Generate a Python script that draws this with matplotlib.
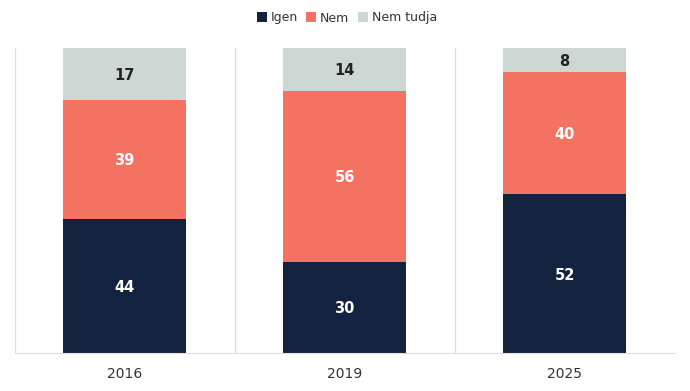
import matplotlib
matplotlib.use("Agg")
import matplotlib.pyplot as plt
from matplotlib.patches import Patch
import numpy as np

# data
years = ["2016", "2019", "2025"]
igen = [44, 30, 52]
nem = [39, 56, 40]
nem_tudja = [17, 14, 8]
series_names = ["Igen", "Nem", "Nem tudja"]
colors = ["#13233f", "#f47262", "#cdd7d4"]
text_colors = ["white", "white", "#222222"]

W, H = 690, 391
fig = plt.figure(figsize=(W / 100, H / 100), dpi=100)
ax = fig.add_axes([14.5 / W, (H - 353) / H, 660 / W, 305 / H])

x = np.arange(len(years))
bottom = np.zeros(len(years))
for vals, col, tcol in zip([igen, nem, nem_tudja], colors, text_colors):
    vals = np.array(vals, dtype=float)
    ax.bar(x, vals, bottom=bottom, width=0.56, color=col, zorder=2)
    for xi, v, b in zip(x, vals, bottom):
        ax.text(xi, b + v / 2 - 0.5, str(int(v)), ha="center", va="center",
                color=tcol, fontsize=10.5, fontweight="semibold", zorder=3)
    bottom += vals

ax.set_xlim(-0.5, len(years) - 0.5)
ax.set_ylim(0, 100)
ax.set_yticks([])
ax.set_xticks(x)
ax.set_xticklabels(years, fontsize=10, color="#333333")
ax.tick_params(axis="x", length=0, pad=10)

# separators between categories
for b in np.arange(-0.5, len(years), 1):
    ax.axvline(b, color="#dddddd", lw=0.9, zorder=1)

for s in ["top", "left", "right"]:
    ax.spines[s].set_visible(False)
ax.spines["bottom"].set_color("#dddddd")

handles = [Patch(facecolor=c, edgecolor="none") for c in colors]
fig.legend(handles, series_names, loc="center", bbox_to_anchor=(347 / W, 1 - 18 / H),
           ncol=3, frameon=False, fontsize=9, handlelength=0.8, handleheight=0.8,
           handletextpad=0.3, columnspacing=0.7, labelcolor="#333333")

fig.savefig("out.png", dpi=100)
